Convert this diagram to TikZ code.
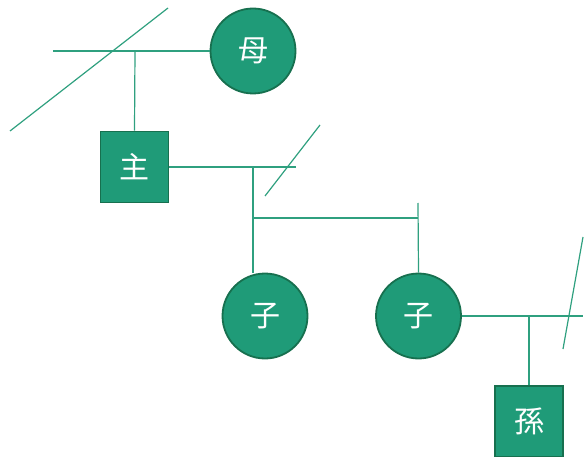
\documentclass[tikz,border=0pt]{standalone}
\usepackage{fontspec}
\newfontfamily\cjk{Noto Sans CJK JP}
\definecolor{fillg}{HTML}{1F9B78}
\definecolor{edgeg}{HTML}{17704F}
\definecolor{lineg}{HTML}{2FA07F}
\tikzset{
  fem/.style={circle, draw=edgeg, fill=fillg, line width=1.8pt, minimum size=85pt, inner sep=0pt, text=white, font=\cjk\fontsize{30}{30}\selectfont},
  male/.style={rectangle, draw=edgeg, fill=fillg, line width=1.8pt, minimum width=68pt, minimum height=71pt, inner sep=0pt, text=white, font=\cjk\fontsize{30}{30}\selectfont},
  link/.style={draw=lineg, line width=1.2pt},
}
\begin{document}
\begin{tikzpicture}[x=1pt,y=-1pt]
\useasboundingbox (0,0) rectangle (586,457);
% nodes
\node[fem] (mother) at (253,51) {母};
\node[male] (self) at (134.5,167) {主};
\node[fem] (c1) at (265,316) {子};
\node[fem] (c2) at (418.5,316) {子};
\node[male] (gc) at (529,421.5) {孫};
% coordinates
\coordinate (ml) at (53,51);
\coordinate (j1) at (135,51);
\coordinate (d1a) at (10,131);
\coordinate (d1b) at (168,8);
\coordinate (sr) at (296,167);
\coordinate (s1) at (253,167);
\coordinate (h1) at (253,218);
\coordinate (h2) at (418,218);
\coordinate (h2t) at (418,203);
\coordinate (d2a) at (265,196);
\coordinate (d2b) at (320,125);
\coordinate (cr) at (583,316);
\coordinate (j3) at (529,316);
\coordinate (d3a) at (563,349);
\coordinate (d3b) at (583,237);
% connectors
\draw[link] (ml) -- (mother.west);
\draw[link] (j1) -- (self.north);
\draw[link] (d1a) -- (d1b);
\draw[link] (self.east) -- (sr);
\draw[link] (s1) -- (s1 |- c1.north);
\draw[link] (h1) -- (h2);
\draw[link] (h2t) -- (c2.north);
\draw[link] (d2a) -- (d2b);
\draw[link] (c2.east) -- (cr);
\draw[link] (j3) -- (gc.north);
\draw[link] (d3a) -- (d3b);
\end{tikzpicture}
\end{document}
